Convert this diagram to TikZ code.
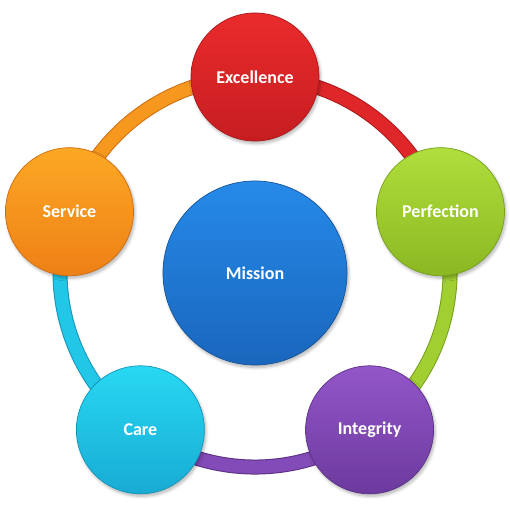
\documentclass[tikz,border=0pt]{standalone}
\usepackage{fontspec}
\setmainfont{Carlito}
\usetikzlibrary{shadows.blur}
\pgfdeclarelayer{background}
\pgfsetlayers{background,main}
\definecolor{redT}{HTML}{EA2B2C}\definecolor{redB}{HTML}{C61D21}\definecolor{redD}{HTML}{A8181B}
\definecolor{grnT}{HTML}{B0DE3C}\definecolor{grnB}{HTML}{8BB822}\definecolor{grnD}{HTML}{76A01A}
\definecolor{purT}{HTML}{9356C8}\definecolor{purB}{HTML}{6C3A9E}\definecolor{purD}{HTML}{5A2F86}
\definecolor{cyaT}{HTML}{28D8F2}\definecolor{cyaB}{HTML}{18ABD4}\definecolor{cyaD}{HTML}{1394B8}
\definecolor{oraT}{HTML}{FCA824}\definecolor{oraB}{HTML}{EE8016}\definecolor{oraD}{HTML}{D06C10}
\definecolor{bluT}{HTML}{268AE8}\definecolor{bluB}{HTML}{1A66BD}\definecolor{bluD}{HTML}{155499}
\begin{document}
\begin{tikzpicture}[x=1pt,y=1pt,
  ball/.style={circle, minimum size=128pt, inner sep=0pt, text=white, line width=0.7pt,
    font=\bfseries\fontsize{18}{20}\selectfont,
    blur shadow={shadow xshift=1.5pt, shadow yshift=-2.5pt, shadow blur steps=6, shadow opacity=30, shadow blur radius=3pt}},
  ringedge/.style={line width=15pt},
  ringfill/.style={line width=13pt}]
\useasboundingbox (0,0) rectangle (510,510);
\node[ball, top color=redT, bottom color=redB, draw=redD] (ex) at (255,433) {Excellence};
\node[ball, top color=grnT, bottom color=grnB, draw=grnD] (pe) at (440.5,298.3) {Perfection};
\node[ball, top color=purT, bottom color=purB, draw=purD] (in) at (369.6,80.2) {Integrity};
\node[ball, top color=cyaT, bottom color=cyaB, draw=cyaD] (ca) at (140.4,80.2) {Care};
\node[ball, top color=oraT, bottom color=oraB, draw=oraD] (se) at (69.5,298.3) {Service};
\node[ball, minimum size=184pt, top color=bluT, bottom color=bluB, draw=bluD] (mi) at (255,237) {Mission};
\begin{pgfonlayer}{background}
\draw[ringedge, redD] (ex.center) arc[start angle=90, end angle=18, radius=195pt];
\draw[ringfill, redT!70!redB] (ex.center) arc[start angle=90, end angle=18, radius=195pt];
\draw[ringedge, grnD] (pe.center) arc[start angle=18, end angle=-54, radius=195pt];
\draw[ringfill, grnT!60!grnB] (pe.center) arc[start angle=18, end angle=-54, radius=195pt];
\draw[ringedge, purD] (in.center) arc[start angle=-54, end angle=-126, radius=195pt];
\draw[ringfill, purT!60!purB] (in.center) arc[start angle=-54, end angle=-126, radius=195pt];
\draw[ringedge, cyaD] (ca.center) arc[start angle=-126, end angle=-198, radius=195pt];
\draw[ringfill, cyaT!60!cyaB] (ca.center) arc[start angle=-126, end angle=-198, radius=195pt];
\draw[ringedge, oraD] (se.center) arc[start angle=162, end angle=90, radius=195pt];
\draw[ringfill, oraT!60!oraB] (se.center) arc[start angle=162, end angle=90, radius=195pt];
\end{pgfonlayer}
\end{tikzpicture}
\end{document}
